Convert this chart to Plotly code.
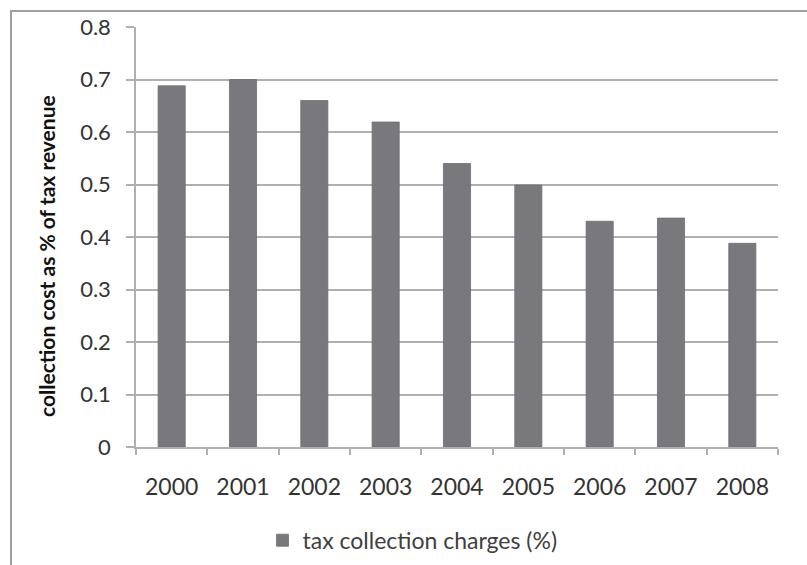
import plotly.graph_objects as go

years = ["2000", "2001", "2002", "2003", "2004", "2005", "2006", "2007", "2008"]
charges = [0.688, 0.700, 0.660, 0.619, 0.540, 0.499, 0.430, 0.436, 0.388]
y_ticks = [0, 0.1, 0.2, 0.3, 0.4, 0.5, 0.6, 0.7, 0.8]
y_tick_text = ["0", "0.1", "0.2", "0.3", "0.4", "0.5", "0.6", "0.7", "0.8"]
y_title = "collection cost as % of tax revenue"

bar_color = "#79797d"
grid_color = "#b0b0b0"
font_family = "Lato, Open Sans, sans-serif"

fig = go.Figure(
    go.Bar(
        x=years,
        y=charges,
        name="tax collection charges (%)",
        marker=dict(color=bar_color, line=dict(color="#6e6e72", width=0.8)),
    )
)

fig.update_layout(
    width=807,
    height=565,
    margin=dict(l=136, r=29, t=27, b=118, autoexpand=False),
    paper_bgcolor="white",
    plot_bgcolor="white",
    bargap=0.62,
    font=dict(family=font_family, size=20, color="#333333"),
    showlegend=True,
    legend=dict(
        orientation="h",
        x=0.197,
        xanchor="left",
        y=-0.222,
        yanchor="middle",
        font=dict(size=23, color="#404040"),
    ),
    xaxis=dict(
        type="category",
        automargin=False,
        showline=True,
        linecolor=grid_color,
        linewidth=1.5,
        ticks="outside",
        tickson="boundaries",
        ticklen=6,
        tickcolor=grid_color,
        tickwidth=1.5,
        ticklabelstandoff=19,
        showgrid=False,
        tickfont=dict(size=23, color="#333333"),
    ),
    yaxis=dict(
        range=[0, 0.8],
        automargin=False,
        tickvals=y_ticks,
        ticktext=y_tick_text,
        showline=True,
        linecolor=grid_color,
        linewidth=1.5,
        ticks="outside",
        ticklen=8,
        tickcolor=grid_color,
        tickwidth=1.5,
        ticklabelstandoff=11,
        showgrid=True,
        gridcolor=grid_color,
        gridwidth=1.5,
        zeroline=False,
        tickfont=dict(size=22, color="#333333"),
    ),
    annotations=[
        dict(
            text="<b>" + y_title + "</b>",
            textangle=-90,
            xref="paper",
            yref="paper",
            x=-0.1386,
            y=0.455,
            xanchor="center",
            yanchor="middle",
            showarrow=False,
            font=dict(size=21, color="#111111"),
        )
    ],
    shapes=[
        dict(
            type="rect",
            xref="paper",
            yref="paper",
            x0=-0.1947,
            x1=1.2,
            y0=-0.5,
            y1=1.038,
            line=dict(color="#a0a0a0", width=2),
            fillcolor="rgba(0,0,0,0)",
            layer="below",
        )
    ],
)

fig.write_html("out.html")
